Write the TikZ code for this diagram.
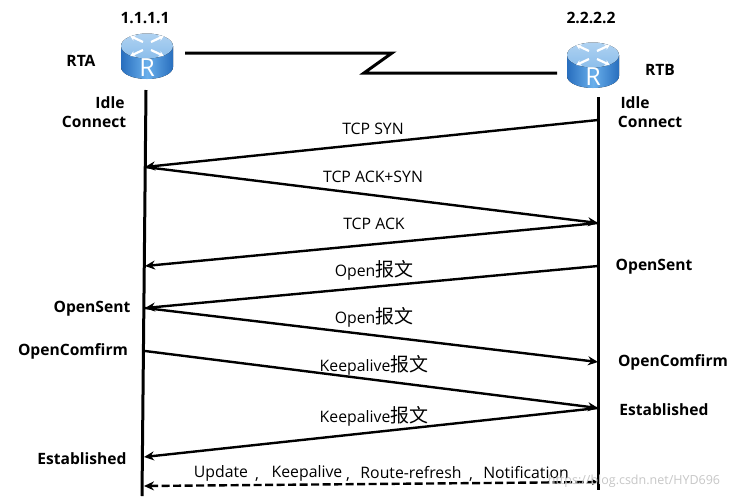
\documentclass[tikz,border=0pt]{standalone}
\usepackage{fontspec}
\setmainfont{Open Sans}
\newfontfamily\cjk[Scale=1.2]{Noto Sans CJK SC}
\usetikzlibrary{arrows.meta}
\definecolor{rtop}{RGB}{140,190,235}
\definecolor{rside}{RGB}{105,175,235}
\definecolor{rdark}{RGB}{40,110,190}
\tikzset{
 x=1pt,y=-1pt,
 life/.style={line width=3pt},
 msg/.style={line width=2.4pt,-{Stealth[length=10pt,width=9pt]}},
 dmsg/.style={line width=2.4pt,dash pattern=on 8pt off 3.5pt,{Stealth[length=10pt,width=9pt]}-{Stealth[length=6pt,width=6pt]}},
 wan/.style={line width=3pt},
 lab/.style={font=\fontsize{15.8}{17}\selectfont,inner sep=0pt},
 state/.style={font=\fontsize{15.6}{17}\selectfont\bfseries,inner sep=0pt},
 router/.pic={
  \fill[left color=rdark,right color=rdark,middle color=rside] (-26,-11) -- (-26,10) .. controls (-26,17) and (-14,22) .. (0,22) .. controls (14,22) and (26,17) .. (26,10) -- (26,-11) -- cycle;
  \fill[top color=rtop!70!white,bottom color=rtop] (0,-11) ellipse[x radius=26,y radius=12.5];
  \foreach \a/\b in {-4/-15,4/-15,-4/-7,4/-7}{
   \draw[white,line width=2.2pt,-{Stealth[length=5pt,width=6pt]}] (\a,\b) -- ++({\a*3.2},{(\b+11)*1.5});
  }
  \node[white,inner sep=0pt,font=\fontsize{25}{25}\selectfont] at (0,11) {R};
 }
}
\begin{document}
\begin{tikzpicture}
\useasboundingbox[fill=white] (0,0) rectangle (746,498);
\pic at (147,57) {router};
\pic at (593,66) {router};
\node[state] (ipa) at (145,18) {1.1.1.1};
\node[state] (ipb) at (591,18) {2.2.2.2};
\node[state] (rta) at (81,61) {RTA};
\node[state] (rtb) at (660,70) {RTB};
\node[state] (ia) at (110,103) {Idle};
\node[state] (ca) at (94,122) {Connect};
\node[state] (ib) at (635,103) {Idle};
\node[state] (cb) at (650,122) {Connect};
\node[state] (osb) at (654,267) {OpenSent};
\node[state] (osa) at (92,309) {OpenSent};
\node[state] (oca) at (73,351) {OpenComfirm};
\node[state] (ocb) at (673,362) {OpenComfirm};
\node[state] (estb) at (664,410) {Established};
\node[state] (esta) at (82,459) {Established};
% lifelines
\coordinate (a0) at (146,90);  \coordinate (a9) at (142,496);
\coordinate (b0) at (598,97);  \coordinate (b9) at (598,490);
\draw[life] (a0) -- (a9);
\draw[life] (b0) -- (b9);
% serial link
\coordinate (w0) at (185,53); \coordinate (w1) at (392,53);
\coordinate (w2) at (364,73); \coordinate (w3) at (557,73);
\draw[wan,line join=miter] (w0) -- (w1) -- (w2) -- (w3);
% message anchors
\coordinate (m1s) at (598,120); \coordinate (m1e) at (145,167);
\coordinate (m2e) at (598,223);
\coordinate (m3e) at (145,266);
\coordinate (m4s) at (598,266); \coordinate (m4e) at (145,308);
\coordinate (m5e) at (598,362);
\coordinate (m6s) at (145,351); \coordinate (m6e) at (598,408);
\coordinate (m7e) at (144,457);
\coordinate (m8a) at (144,486); \coordinate (m8b) at (598,482);
\draw[msg] (m1s) -- (m1e);
\draw[msg] (m1e) -- (m2e);
\draw[msg] (m2e) -- (m3e);
\draw[msg] (m4s) -- (m4e);
\draw[msg] (m4e) -- (m5e);
\draw[msg] (m6s) -- (m6e);
\draw[msg] (m6e) -- (m7e);
\draw[dmsg] (m8a) -- (m8b);
\node[lab] (t1) at (373,129) {TCP SYN};
\node[lab] (t2) at (373,177) {TCP ACK+SYN};
\node[lab] (t3) at (374,224) {TCP ACK};
\node[lab] (t4) at (374,270) {Open{\cjk 报文}};
\node[lab] (t5) at (374,317) {Open{\cjk 报文}};
\node[lab] (t6) at (374,365) {Keepalive{\cjk 报文}};
\node[lab] (t7) at (374,416) {Keepalive{\cjk 报文}};
\node[lab] (u1) at (221,473) {Update};
\node[lab] (u2) at (307,473) {Keepalive};
\node[lab] (u3) at (411,473) {Route-refresh};
\node[lab] (u4) at (526,473) {Notification};
\node[lab] (c1) at (257,480) {,};
\node[lab] (c2) at (348,480) {,};
\node[lab] (c3) at (471,480) {,};
\node[inner sep=0pt,text=black!22,font=\fontsize{12.5}{14}\selectfont] (wm) at (634,481) {https://blog.csdn.net/HYD696};
\end{tikzpicture}
\end{document}
